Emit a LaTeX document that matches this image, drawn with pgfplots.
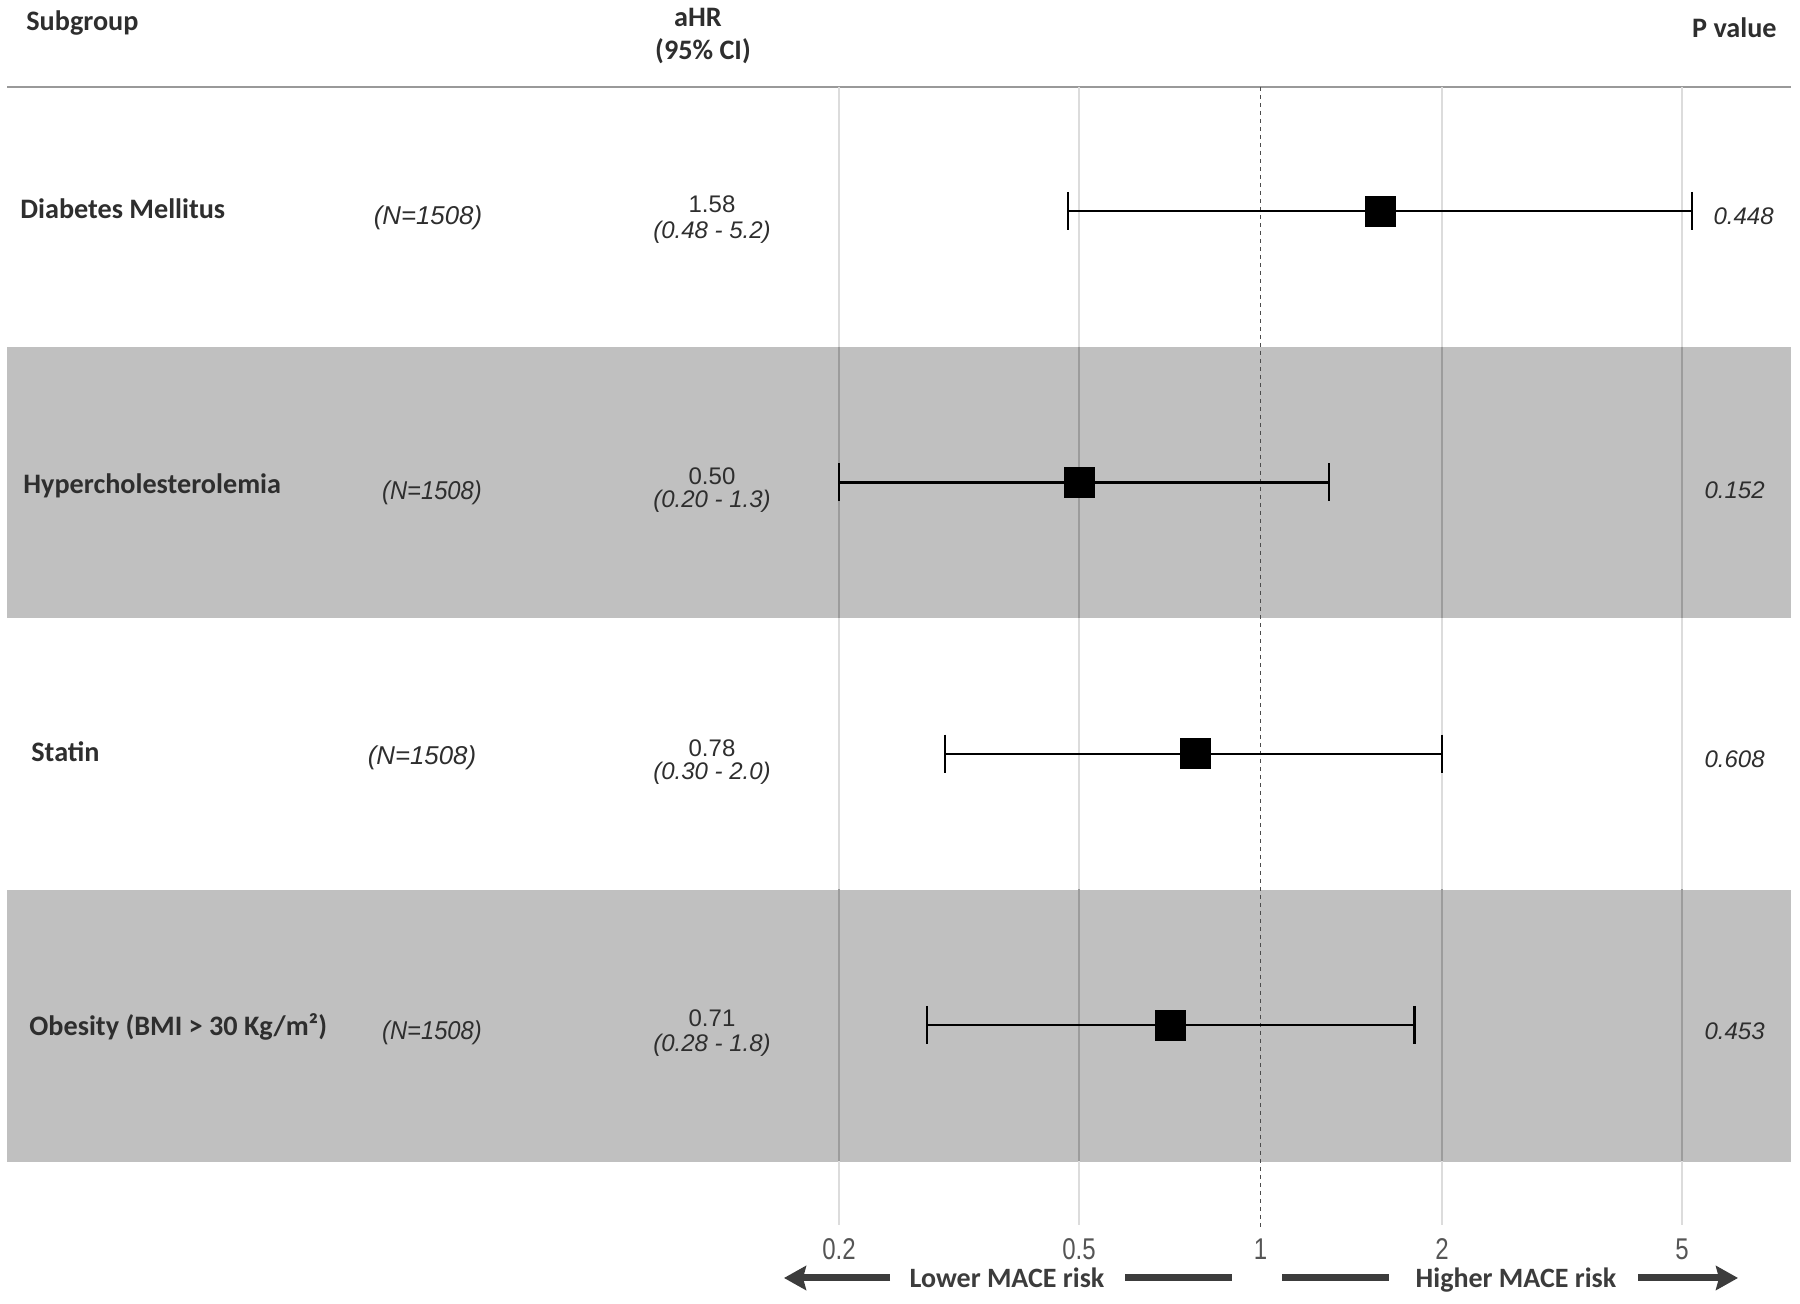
\documentclass[border=0pt]{standalone}
\usepackage{pgfplots}
\pgfplotsset{compat=1.18}
\usepackage{pgfplotstable}
\usepackage{fontspec}
\setmainfont{Carlito}
\newfontfamily\arial{Liberation Sans}
\usetikzlibrary{arrows.meta}
\definecolor{band}{HTML}{C0C0C0}
\definecolor{gridlight}{HTML}{DCDCDC}
\definecolor{griddark}{HTML}{9C9C9C}
\definecolor{txt}{HTML}{2E2E2E}
\definecolor{arrowc}{HTML}{3C3C3C}
\definecolor{tickc}{HTML}{555555}

\pgfplotstableread{
row hr lo hi
1 1.58 0.48 5.2
2 0.50 0.20 1.3
3 0.78 0.30 2.0
4 0.71 0.28 1.8
}\forest

\begin{document}
\begin{tikzpicture}
\useasboundingbox (0,0) rectangle (900pt,652pt);
\begin{scope}[x=0.5pt,y=-0.5pt,shift={(0pt,652pt)}]
 \fill[band] (7,347) rectangle (1791,618);
 \fill[band] (7,890) rectangle (1791,1162);
 \draw[black!40, line width=1pt] (7,87) -- (1791,87);
\end{scope}
\begin{axis}[at={(0pt,0pt)}, anchor=south west, scale only axis,
  width=900pt, height=652pt, xmode=log, xmin=0.0081221, xmax=7.8468,
  ymin=0.2224, ymax=5.0283, y dir=reverse, hide axis, clip=false]
 % grid lines
 \addplot[gridlight, line width=0.85pt] coordinates {(0.2,0.543) (0.2,4.737)};
 \addplot[gridlight, line width=0.85pt] coordinates {(0.5,0.543) (0.5,4.737)};
 \addplot[gridlight, line width=0.85pt] coordinates {(2,0.543) (2,4.737)};
 \addplot[gridlight, line width=0.85pt] coordinates {(5,0.543) (5,4.737)};
 \addplot[griddark, line width=0.85pt] coordinates {(0.2,1.5) (0.2,2.5)};
 \addplot[griddark, line width=0.85pt] coordinates {(0.5,1.5) (0.5,2.5)};
 \addplot[griddark, line width=0.85pt] coordinates {(2,1.5) (2,2.5)};
 \addplot[griddark, line width=0.85pt] coordinates {(5,1.5) (5,2.5)};
 \addplot[griddark, line width=0.85pt] coordinates {(0.2,3.5) (0.2,4.5)};
 \addplot[griddark, line width=0.85pt] coordinates {(0.5,3.5) (0.5,4.5)};
 \addplot[griddark, line width=0.85pt] coordinates {(2,3.5) (2,4.5)};
 \addplot[griddark, line width=0.85pt] coordinates {(5,3.5) (5,4.5)};
 \addplot[black!70, line width=0.9pt, dash pattern=on 2pt off 2pt] coordinates {(1,0.543) (1,4.748)};
 % CI lines
 \addplot[black, line width=1.3pt] coordinates {(0.48,1) (5.2,1)};
 \addplot[black, line width=1.3pt] coordinates {(0.20,2) (1.3,2)};
 \addplot[black, line width=1.1pt] coordinates {(0.30,3) (2.0,3)};
 \addplot[black, line width=1.1pt] coordinates {(0.28,4) (1.8,4)};
 \addplot[only marks, mark=|, mark size=9.5pt, mark options={line width=1.2pt, black}] table[x=lo,y=row]{\forest};
 \addplot[only marks, mark=|, mark size=9.5pt, mark options={line width=1.2pt, black}] table[x=hi,y=row]{\forest};
 \addplot[only marks, mark=square*, mark size=7.5pt, mark options={black, fill=black}] table[x=hr,y=row]{\forest};
 % tick labels
 \foreach \t/\l in {0.2/0.2, 0.5/0.5, 1/1, 2/2, 5/5}{
   \edef\temp{\noexpand\node[text=tickc, inner sep=0pt, font=\noexpand\arial\noexpand\fontsize{15}{17}\noexpand\selectfont, xscale=0.8] at (axis cs:\t,4.8256) {\l};}
   \temp
 }
\end{axis}
\begin{scope}[x=0.5pt,y=-0.5pt,shift={(0pt,652pt)}, every node/.style={inner sep=0pt, text=txt}]
 \tikzset{lab/.style={font=\bfseries\fontsize{14.1}{16}\selectfont}}
 \tikzset{nn/.style={font=\arial\itshape\fontsize{12.9}{14}\selectfont}}
 \tikzset{vv/.style={font=\arial\fontsize{12}{13}\selectfont}}
 \tikzset{vi/.style={font=\arial\itshape\fontsize{12}{13}\selectfont}}
 \tikzset{pp/.style={font=\arial\itshape\fontsize{12}{14}\selectfont}}
 \node[lab, anchor=mid west] at (26,25.5) {Subgroup};
 \node[lab, anchor=mid] at (698,21.5) {aHR};
 \node[lab, anchor=mid] at (703,54.5) {(95\% CI)};
 \node[lab, anchor=mid east] at (1777,32.5) {P value};
 \node[lab, anchor=mid west] at (20,213.5) {Diabetes Mellitus};
 \node[lab, anchor=mid west] at (23,488.5) {Hypercholesterolemia};
 \node[lab, anchor=mid west] at (31,756.5) {Statin};
 \node[lab, anchor=mid west] at (29,1030.5) {Obesity (BMI > 30 Kg/m²)};
 \node[nn, anchor=mid] at (428,219.5) {(N=1508)};
 \node[nn, anchor=mid, xscale=0.92] at (432,494.5) {(N=1508)};
 \node[nn, anchor=mid] at (422,759.5) {(N=1508)};
 \node[nn, anchor=mid, xscale=0.92] at (432,1034.5) {(N=1508)};
 \node[vv, anchor=mid] at (712,207.5) {1.58};
 \node[vi, anchor=mid] at (712,233.5) {(0.48 - 5.2)};
 \node[vv, anchor=mid] at (712,479.5) {0.50};
 \node[vi, anchor=mid] at (712,502.5) {(0.20 - 1.3)};
 \node[vv, anchor=mid] at (712,751.5) {0.78};
 \node[vi, anchor=mid] at (712,774.5) {(0.30 - 2.0)};
 \node[vv, anchor=mid] at (712,1021.5) {0.71};
 \node[vi, anchor=mid] at (712,1046.5) {(0.28 - 1.8)};
 \node[pp, anchor=mid east] at (1774,219.5) {0.448};
 \node[pp, anchor=mid east] at (1765,493.5) {0.152};
 \node[pp, anchor=mid east] at (1765,762.5) {0.608};
 \node[pp, anchor=mid east] at (1765,1034.5) {0.453};
 % risk arrows
 \draw[arrowc, line width=3.5pt, -{Stealth[length=11pt,width=12pt,inset=1.5pt]}] (890,1278) -- (784,1278);
 \draw[arrowc, line width=3.5pt] (1125,1278) -- (1232,1278);
 \draw[arrowc, line width=3.5pt] (1282,1278) -- (1389,1278);
 \draw[arrowc, line width=3.5pt, -{Stealth[length=11pt,width=12pt,inset=1.5pt]}] (1638,1278) -- (1738,1278);
 \node[lab, anchor=mid, text=arrowc, font=\bfseries\fontsize{14}{16}\selectfont] at (1007,1282.5) {Lower MACE risk};
 \node[lab, anchor=mid, text=arrowc, font=\bfseries\fontsize{14}{16}\selectfont] at (1516,1282.5) {Higher MACE risk};
\end{scope}
\end{tikzpicture}
\end{document}
